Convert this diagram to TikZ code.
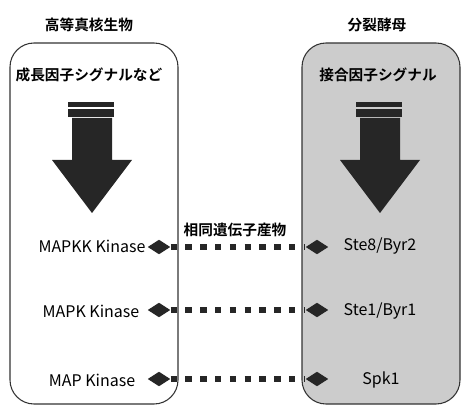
\documentclass[tikz,border=0pt]{standalone}
\usepackage{fontspec}
\setmainfont{Noto Sans CJK JP}[BoldFont={Noto Sans CJK JP Bold}]
\usetikzlibrary{shapes.geometric}
\definecolor{yeastgray}{gray}{0.8}
\tikzstyle{orgbox} = [draw=black!80, thick, rounded corners=18pt]
\tikzstyle{heading} = [font=\fontsize{11}{13}\selectfont\bfseries]
\tikzstyle{kinase} = [font=\fontsize{12}{14}\selectfont, inner sep=0pt]
\tikzstyle{end} = [diamond, fill=black!85, inner sep=0pt, minimum width=17pt, minimum height=11pt]
\tikzstyle{homolog} = [black!85, line width=4.8pt, dash pattern=on 4.8pt off 6.3pt]

\begin{document}
\begin{tikzpicture}[x=0.75pt, y=-0.75pt]
\useasboundingbox (0,0) rectangle (461,406);
% the two organisms
\draw[orgbox] (10,43) rectangle (178,404);
\draw[orgbox, fill=yeastgray] (302,43) rectangle (460,404);
\node[heading] (higher) at (89,25) {高等真核生物};
\node[heading] (yeast) at (377,25) {分裂酵母};
\node[heading] (growth) at (89,75) {成長因子シグナルなど};
\node[heading] (mating) at (378,75) {接合因子シグナル};
% signal arrows
\foreach \cx in {92,380} {
  \fill[black!85] (\cx-24,102) rectangle (\cx+22,107);
  \fill[black!85] (\cx-24,109) rectangle (\cx+22,117);
  \fill[black!85] (\cx-20,118) -- (\cx+20,118) -- (\cx+20,160) -- (\cx+40,160)
    -- (\cx,213) -- (\cx-40,160) -- (\cx-20,160) -- cycle;
}
% kinases
\node[kinase] (mapkkk) at (92,246) {MAPKK Kinase};
\node[kinase] (mapkk) at (91,311) {MAPK Kinase};
\node[kinase] (mapk) at (92,380) {MAP Kinase};
\node[kinase] (ste8) at (380,246) {Ste8/Byr2};
\node[kinase] (ste1) at (380,311) {Ste1/Byr1};
\node[kinase] (spk1) at (381,380) {Spk1};
\node[heading] (homol) at (235,230) {相同遺伝子産物};
\foreach \n/\y in {1/247,2/310,3/379} {
  \node[end] (l\n) at (159,\y) {};
  \node[end] (r\n) at (317,\y) {};
  \draw[homolog] (l\n) -- (r\n);
}
\end{tikzpicture}
\end{document}
